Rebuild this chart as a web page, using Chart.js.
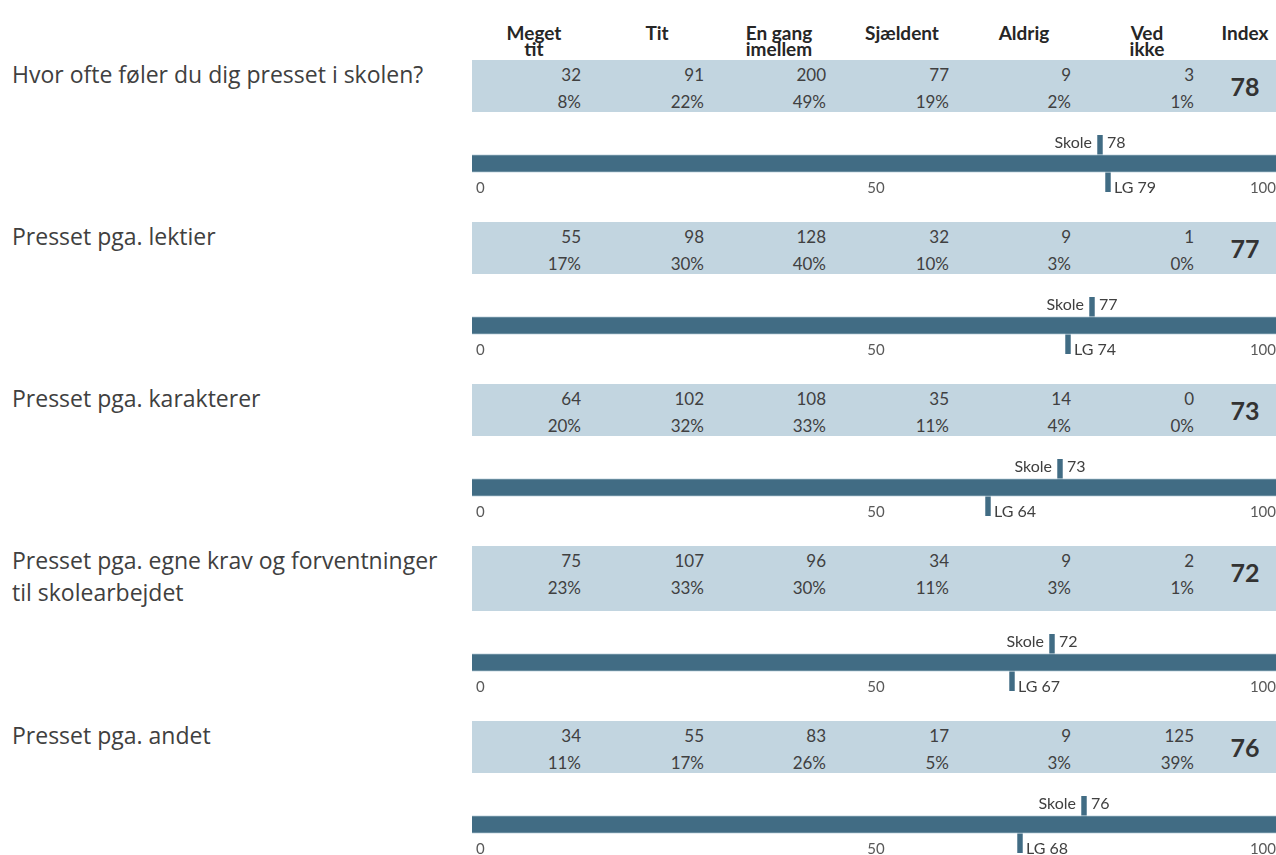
<!DOCTYPE html>
<html lang="da">
<head>
<meta charset="UTF-8">
<title>Presset i skolen</title>
<script src="https://cdn.jsdelivr.net/npm/chart.js"></script>
<style>
  body { margin: 0; background: #fff; }
  #page { position: relative; width: 1276px; height: 855px; overflow: hidden; color: #404040; }
  .head { position: absolute; top: 25px; width: 100px; margin-left: -50px; text-align: center;
          font: bold 19px/16px Lato, sans-serif; color: #262626; white-space: pre-line; }
  .title { position: absolute; left: 12px; width: 445px; font: 23px/32px "Open Sans", sans-serif; color: #404040; }
  .band { position: absolute; left: 472px; width: 804px; background: #c2d5e0; }
  .cell { position: absolute; top: 1px; width: 60px; text-align: right; font: 17px/27px Lato, sans-serif; color: #404040; }
  .idx { position: absolute; top: 11px; width: 60px; margin-left: -30px; text-align: center; font: bold 25px/30px Lato, sans-serif; color: #333; }
  .chartbox { position: absolute; left: 472px; width: 804px; height: 69px; }
</style>
</head>
<body>
<div id="page"></div>
<script>
// spørgsmål og svar
const questions = [
  'Hvor ofte føler du dig presset i skolen?',
  'Presset pga. lektier',
  'Presset pga. karakterer',
  'Presset pga. egne krav og forventninger til skolearbejdet',
  'Presset pga. andet'
];
const answerLabels = ['Meget\ntit', 'Tit', 'En gang\nimellem', 'Sjældent', 'Aldrig', 'Ved\nikke'];
const counts = [
  [32, 91, 200, 77, 9, 3],
  [55, 98, 128, 32, 9, 1],
  [64, 102, 108, 35, 14, 0],
  [75, 107, 96, 34, 9, 2],
  [34, 55, 83, 17, 9, 125]
];
const percents = [
  [8, 22, 49, 19, 2, 1],
  [17, 30, 40, 10, 3, 0],
  [20, 32, 33, 11, 4, 0],
  [23, 33, 30, 11, 3, 1],
  [11, 17, 26, 5, 3, 39]
];
const schoolIndex = [78, 77, 73, 72, 76];
const lgIndex = [79, 74, 64, 67, 68];
const axisTicks = [0, 50, 100];

const barColor = '#416c84';
const colRight = [581, 704, 826, 949, 1071, 1194];  // højre kant af talkolonner
const indexCenter = 1245;
const page = document.getElementById('page');

// kolonneoverskrifter
answerLabels.forEach((lbl, c) => {
  const h = document.createElement('div');
  h.className = 'head';
  h.style.left = (colRight[c] - 47) + 'px';
  h.textContent = lbl;
  page.appendChild(h);
});
const ih = document.createElement('div');
ih.className = 'head';
ih.style.left = indexCenter + 'px';
ih.textContent = 'Index';
page.appendChild(ih);

// tekst ved markørerne
const markerLabels = {
  id: 'markerLabels',
  afterDatasetsDraw(chart) {
    const ctx = chart.ctx;
    const xs = chart.scales.x, ys = chart.scales.y;
    const s = chart.data.datasets[1].value, lg = chart.data.datasets[2].value;
    ctx.save();
    ctx.font = '16px Lato, sans-serif';
    ctx.fillStyle = '#404040';
    ctx.textBaseline = 'middle';
    const sx = xs.getPixelForValue(s);
    const sy = ys.getPixelForValue(0) - 2;
    ctx.textAlign = 'right';
    ctx.fillText('Skole', sx - 8, sy);
    ctx.textAlign = 'left';
    ctx.fillText(String(s), sx + 7, sy);
    const lx = xs.getPixelForValue(lg);
    ctx.fillText('LG ' + lg, lx + 6, ys.getPixelForValue(2) + 5);
    ctx.restore();
  }
};

let rowTop = 60;
questions.forEach((q, i) => {
  const t = document.createElement('div');
  t.className = 'title';
  t.style.top = (rowTop - 2) + 'px';
  t.textContent = q;
  page.appendChild(t);
  const bandH = Math.max(52, t.offsetHeight + 1);

  const band = document.createElement('div');
  band.className = 'band';
  band.style.top = rowTop + 'px';
  band.style.height = bandH + 'px';
  counts[i].forEach((n, c) => {
    const cell = document.createElement('div');
    cell.className = 'cell';
    cell.style.left = (colRight[c] - 472 - 60) + 'px';
    cell.innerHTML = n + '<br>' + percents[i][c] + '%';
    band.appendChild(cell);
  });
  const idx = document.createElement('div');
  idx.className = 'idx';
  idx.style.left = (indexCenter - 472) + 'px';
  idx.textContent = schoolIndex[i];
  band.appendChild(idx);
  page.appendChild(band);

  // indeksbjælke
  const barTop = rowTop + bandH + 42;
  const box = document.createElement('div');
  box.className = 'chartbox';
  box.style.top = (barTop - 19) + 'px';
  const cv = document.createElement('canvas');
  cv.width = 804; cv.height = 69;
  box.appendChild(cv);
  page.appendChild(box);

  const s = schoolIndex[i], lg = lgIndex[i];
  new Chart(cv, {
    type: 'bar',
    data: {
      labels: ['Skole', 'Index', 'LG'],
      datasets: [
        { label: 'Index', data: [null, [-0.5, 100], null], backgroundColor: barColor,
          borderColor: '#cfdde6', borderWidth: { top: 1, bottom: 1, left: 0, right: 0 },
          borderSkipped: false, barThickness: 18 },
        { label: 'Skole', value: s, data: [[s - 0.3, s + 0.3], null, null], backgroundColor: barColor, barThickness: 22 },
        { label: 'LG', value: lg, data: [null, null, [lg - 0.3, lg + 0.3]], backgroundColor: barColor, barThickness: 22 }
      ]
    },
    options: {
      indexAxis: 'y',
      responsive: false,
      animation: false,
      layout: { padding: { top: 0, bottom: 12, left: 0, right: 0 } },
      datasets: { bar: { grouped: false } },
      plugins: { legend: { display: false }, tooltip: { enabled: false } },
      scales: {
        y: { display: false },
        x: {
          min: -0.5, max: 100,
          position: { y: 2 },
          afterBuildTicks: sc => { sc.ticks = axisTicks.map(v => ({ value: v })); },
          grid: { display: false, drawTicks: false },
          border: { display: false },
          ticks: { align: 'inner', padding: -3, color: '#595959', font: { family: 'Lato', size: 15 } }
        }
      }
    },
    plugins: [markerLabels]
  });

  rowTop += bandH + 110;
});
</script>
</body>
</html>
